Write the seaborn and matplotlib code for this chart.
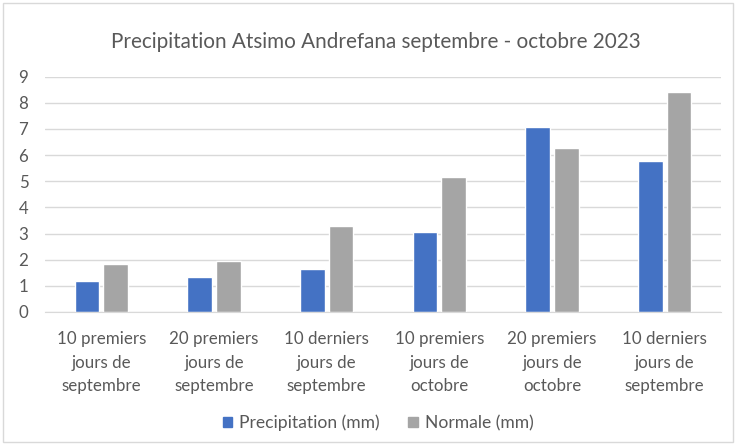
import matplotlib
matplotlib.use("Agg")
import matplotlib.pyplot as plt
import pandas as pd
import seaborn as sns

categories = [
    "10 premiers\njours de\nseptembre",
    "20 premiers\njours de\nseptembre",
    "10 derniers\njours de\nseptembre",
    "10 premiers\njours de\noctobre",
    "20 premiers\njours de\noctobre",
    "10 derniers\njours de\nseptembre",
]
precipitation = [1.2, 1.32, 1.65, 3.05, 7.09, 5.77]
normale = [1.85, 1.94, 3.28, 5.15, 6.28, 8.43]
series = ["Precipitation (mm)", "Normale (mm)"]
colors = ["#4472C4", "#A5A5A5"]

# categories repeat, so use position index for x
n = len(categories)
df = pd.DataFrame({
    "pos": list(range(n)) * 2,
    "valeur": precipitation + normale,
    "serie": [series[0]] * n + [series[1]] * n,
})

sns.set_style("white")
plt.rcParams["font.family"] = ["Lato", "DejaVu Sans"]
text_color = "#595959"

fig = plt.figure(figsize=(7.36, 4.45), dpi=100)
ax = fig.add_axes([45 / 736, 1 - 312 / 445, 676 / 736, (312 - 76.7) / 445])

sns.barplot(data=df, x="pos", y="valeur", hue="serie", palette=colors,
            width=0.506, gap=0.13, saturation=1, errorbar=None, ax=ax)

ax.set_ylim(0, 9)
ax.set_yticks(range(0, 10))
ax.set_xticks(range(n))
ax.set_xticklabels(categories, linespacing=1.55)
ax.yaxis.grid(True, color="#D9D9D9", linewidth=1)
ax.set_axisbelow(True)
for s in ["top", "right", "left"]:
    ax.spines[s].set_visible(False)
ax.spines["bottom"].set_color("#D9D9D9")
ax.set_xlabel("")
ax.set_ylabel("")
ax.tick_params(axis="both", length=0, colors=text_color, labelsize=12.2)
ax.tick_params(axis="x", pad=14)
ax.tick_params(axis="y", pad=12)

ax.legend_.remove()
handles = [plt.Rectangle((0, 0), 1, 1, color=c) for c in colors]
fig.legend(handles, series, loc="center", bbox_to_anchor=(378 / 736, 1 - 423 / 445),
           ncol=2, frameon=False, fontsize=12.6, labelcolor=text_color,
           handlelength=0.55, handleheight=0.55, handletextpad=0.4, columnspacing=1.6)

fig.text(376 / 736, 1 - 42 / 445, "Precipitation Atsimo Andrefana septembre - octobre 2023",
         ha="center", va="center", fontsize=14.9, color=text_color)

border = plt.Rectangle((0.004, 0.006), 0.992, 0.988, transform=fig.transFigure,
                       fill=False, edgecolor="#D9D9D9", linewidth=1)
fig.add_artist(border)

fig.savefig("out.png", dpi=100)
